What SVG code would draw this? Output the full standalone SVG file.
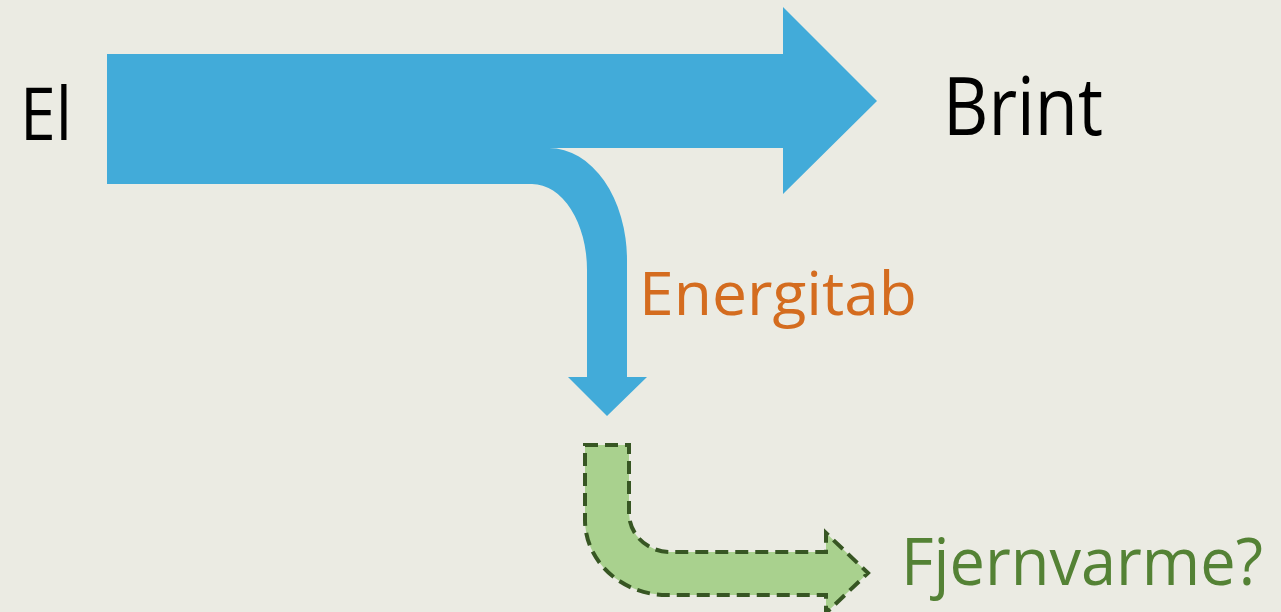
<svg xmlns="http://www.w3.org/2000/svg" width="1281" height="612" viewBox="0 0 1281 612">
<style>
.t{font-family:"Open Sans","Noto Sans","Liberation Sans",sans-serif}
</style>
<rect x="0" y="0" width="1281" height="612" fill="#ebebe3"/>
<g id="connectors">
<path id="blue-arrow" d="M107,54 H783 V7 L877,101 L783,194 V148 H549 A78,112 0 0 1 627,260 V377 H647 L607,416 L568,377 H587 V270 A55,86 0 0 0 532,184 H107 Z" fill="#42abd9"/>
<path id="green-arrow" d="M585,445 H629 V513 A41,39 0 0 0 670,552 H826 V533 L868,573 L826,613 V595 H667 A82,75 0 0 1 585,520 Z" fill="#a9d18e" stroke="#375623" stroke-width="4" stroke-dasharray="13 7"/>
</g>
<g id="node-el"><text class="t" x="20" y="140" font-size="74" fill="#000" textLength="52" lengthAdjust="spacingAndGlyphs">El</text></g>
<g id="node-brint"><text class="t" x="943" y="135" font-size="80" fill="#000" textLength="160" lengthAdjust="spacingAndGlyphs">Brint</text></g>
<g id="node-energitab"><text class="t" x="639" y="315" font-size="60" fill="#d46c1f" textLength="278" lengthAdjust="spacingAndGlyphs">Energitab</text></g>
<g id="node-fjernvarme"><text class="t" x="901" y="585" font-size="66" fill="#548235" textLength="362" lengthAdjust="spacingAndGlyphs">Fjernvarme?</text></g>
</svg>
